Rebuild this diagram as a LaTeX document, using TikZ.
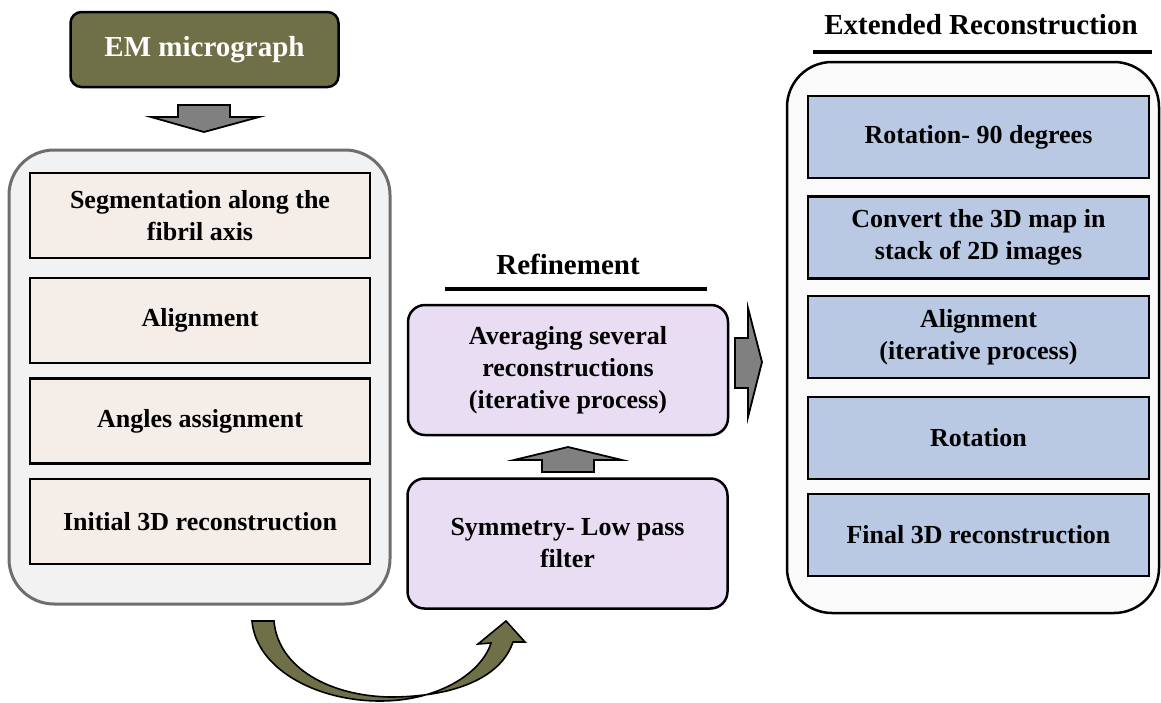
\documentclass[tikz,border=0pt]{standalone}
\usepackage{fontspec}
\setmainfont{Liberation Serif}
\definecolor{olive}{HTML}{6F7048}
\definecolor{beige}{HTML}{F4EDE8}
\definecolor{lav}{HTML}{E9DDF3}
\definecolor{paleblue}{HTML}{B9C9E4}
\definecolor{leftbg}{HTML}{F2F2F2}
\definecolor{rightbg}{HTML}{FAFAFA}
\definecolor{frame}{HTML}{6E6E6E}
\definecolor{arrowgray}{HTML}{808080}
\begin{document}
\begin{tikzpicture}[x=1pt,y=-1pt,
  txt/.style={font=\fontsize{26}{32}\selectfont\bfseries, align=center, inner sep=0pt},
  ttl/.style={font=\fontsize{29}{34}\selectfont\bfseries, inner sep=0pt},
  leftbox/.style={txt, draw=black, line width=2.5pt, fill=beige, minimum width=340pt, minimum height=85pt},
  rightbox/.style={txt, draw=black, line width=2.5pt, fill=paleblue, minimum width=341pt, minimum height=82pt},
  refbox/.style={txt, draw=black, line width=2.5pt, fill=lav, rounded corners=17pt, minimum width=320pt, minimum height=130pt},
  blockarrow/.style={draw=black, line width=1.8pt, fill=arrowgray, line join=miter},
  rule/.style={line width=4pt}]
\useasboundingbox (0,0) rectangle (1161,702);

% input
\node[txt, font=\fontsize{29}{34}\selectfont\bfseries, text=white, fill=olive, draw=black, line width=2.5pt,
  rounded corners=11pt, minimum width=268pt, minimum height=75pt] (em) at (204.5,49.5) {EM micrograph};

% first stage container and steps
\node[draw=frame, line width=3pt, fill=leftbg, rounded corners=45pt,
  minimum width=381pt, minimum height=454pt] (lc) at (199.5,377) {};
\node[leftbox] (seg) at (200,215.5) {Segmentation along the\\fibril axis};
\node[leftbox] (ali) at (200,320.5) {Alignment};
\node[leftbox] (ang) at (200,421) {Angles assignment};
\node[leftbox] (ini) at (200,521.5) {Initial 3D reconstruction};

% arrow from micrograph into the first stage
\filldraw[blockarrow] (178,105) -- (230,105) -- (230,117) -- (259,117) -- (204,132)
  -- (151,117) -- (178,117) -- cycle;

% refinement stage
\node[ttl] (reft) at (568,264) {Refinement};
\draw[rule] (445,289) -- (707,289);
\node[refbox] (avg) at (568,370) {Averaging several\\reconstructions\\(iterative process)};
\node[refbox] (sym) at (567.5,543.5) {Symmetry- Low pass\\filter};

\filldraw[blockarrow] (542,472) -- (594,472) -- (594,460) -- (622,460) -- (568,447)
  -- (514,460) -- (542,460) -- cycle;

\filldraw[blockarrow] (735,338) -- (748,338) -- (748,308) -- (762,362) -- (748,417)
  -- (748,388) -- (735,388) -- cycle;

% curved arrow from the first stage to the refinement stage
\filldraw[draw=black, line width=1.6pt, fill=olive, line join=miter]
  (252,621) .. controls (256,668) and (315,701) .. (380,701)
  .. controls (440,701) and (482,672) .. (491,643)
  -- (478,644) -- (506,621) -- (525,642) -- (513,642)
  .. controls (500,680) and (450,697) .. (390,697)
  .. controls (330,696) and (278,668) .. (274,621) -- cycle;

% extended reconstruction stage
\node[ttl] (extt) at (981,25) {Extended Reconstruction};
\draw[rule] (813,52) -- (1152,52);
\node[draw=black, line width=2.5pt, fill=rightbg, rounded corners=45pt,
  minimum width=372pt, minimum height=551pt] (rc) at (973,337.5) {};
\node[rightbox] (r1) at (978.5,137) {Rotation- 90 degrees};
\node[rightbox] (r2) at (978.5,237.5) {Convert the 3D map in\\stack of 2D images};
\node[rightbox] (r3) at (978.5,337) {Alignment\\(iterative process)};
\node[rightbox] (r4) at (978.5,438) {Rotation};
\node[rightbox] (r5) at (978.5,535) {Final 3D reconstruction};
\end{tikzpicture}
\end{document}
